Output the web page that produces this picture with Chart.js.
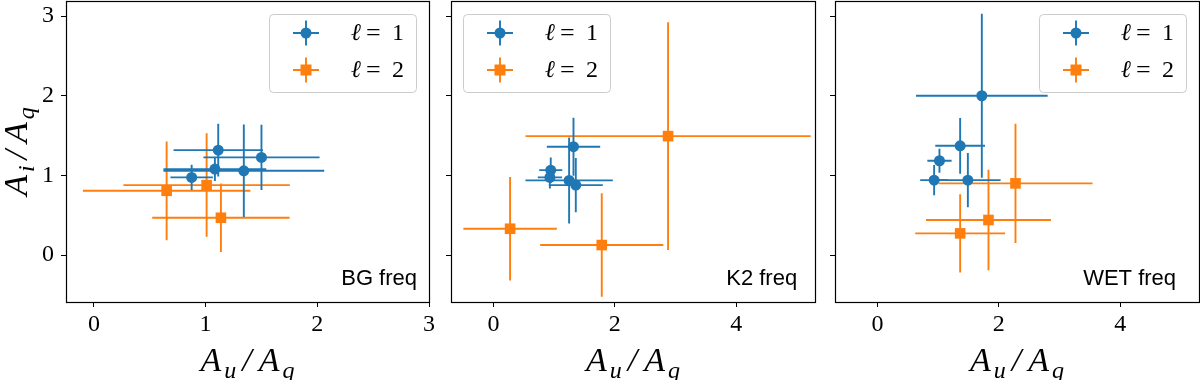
<!DOCTYPE html>
<html>
<head>
<meta charset="utf-8">
<script src="https://cdn.jsdelivr.net/npm/chart.js@4.4.0/dist/chart.umd.min.js"></script>
<style>
	html, body { margin: 0; padding: 0; background: #fff; }
	#wrap { position: relative; width: 1200px; height: 380px; overflow: hidden; }
	.panel { position: absolute; top: 0; }
</style>
</head>
<body>
<div id="wrap">
	<div class="panel" style="left:0px;"><canvas id="c0" width="440" height="380"></canvas></div>
	<div class="panel" style="left:440px;"><canvas id="c1" width="380" height="380"></canvas></div>
	<div class="panel" style="left:824px;"><canvas id="c2" width="376" height="380"></canvas></div>
</div>
<script>
// Values (ratio of amplitudes, with 1-sigma errors)
var panelNames = ['BG freq', 'K2 freq', 'WET freq'];
var seriesLabels = ['ℓ = 1', 'ℓ = 2'];

var bgL1X = [0.875, 1.113, 1.083, 1.342, 1.50];
var bgL1Y = [0.975, 1.317, 1.079, 1.058, 1.226];
var bgL1XErr = [0.19, 0.40, 0.46, 0.72, 0.52];
var bgL1YErr = [0.16, 0.33, 0.15, 0.58, 0.41];
var bgL2X = [0.651, 1.009, 1.137];
var bgL2Y = [0.807, 0.878, 0.468];
var bgL2XErr = [0.75, 0.745, 0.615];
var bgL2YErr = [0.62, 0.65, 0.43];

var k2L1X = [0.944, 0.93, 1.247, 1.319, 1.357];
var k2L1Y = [1.066, 0.975, 0.937, 1.36, 0.878];
var k2L1XErr = [0.19, 0.20, 0.72, 0.44, 0.445];
var k2L1YErr = [0.16, 0.14, 0.54, 0.365, 0.34];
var k2L2X = [0.274, 1.785, 2.878];
var k2L2Y = [0.33, 0.125, 1.493];
var k2L2XErr = [0.77, 1.015, 2.35];
var k2L2YErr = [0.65, 0.65, 1.43];

var wetL1X = [1.72, 1.363, 1.022, 0.934, 1.49];
var wetL1Y = [2.0, 1.372, 1.184, 0.94, 0.94];
var wetL1XErr = [1.085, 0.41, 0.2, 0.23, 0.54];
var wetL1YErr = [1.03, 0.35, 0.15, 0.19, 0.34];
var wetL2X = [1.363, 1.83, 2.275];
var wetL2Y = [0.272, 0.44, 0.9];
var wetL2XErr = [0.74, 1.03, 1.27];
var wetL2YErr = [0.49, 0.63, 0.75];

var bgXTicks = [0, 1, 2, 3];
var wideXTicks = [0, 2, 4];
var yTicks = [0, 1, 2, 3];

var blue = '#1f77b4', orange = '#ff7f0e';
var serif = '"Liberation Serif", "Times New Roman", serif';
var sans = '"Liberation Sans", Arial, sans-serif';

// Draw the error bars of a dataset right before its markers
var errorBars = {
	id: 'errorBars',
	beforeDatasetDraw: function(chart, args) {
		let ds = chart.data.datasets[args.index];
		let xs = chart.scales.x, ys = chart.scales.y, a = chart.chartArea;
		let ctx = chart.ctx;
		ctx.save();
		ctx.beginPath();
		ctx.rect(a.left, a.top, a.right - a.left, a.bottom - a.top);
		ctx.clip();
		ctx.strokeStyle = ds.borderColor;
		ctx.lineWidth = 1.9;
		ds.data.forEach(function(p) {
			let px = xs.getPixelForValue(p.x), py = ys.getPixelForValue(p.y);
			ctx.beginPath();
			ctx.moveTo(xs.getPixelForValue(p.x - p.xerr), py);
			ctx.lineTo(xs.getPixelForValue(p.x + p.xerr), py);
			ctx.moveTo(px, ys.getPixelForValue(p.y - p.yerr));
			ctx.lineTo(px, ys.getPixelForValue(p.y + p.yerr));
			ctx.stroke();
		});
		ctx.restore();
	}
};

// A/B ratio label with subscripts, centred on (x, y) baseline
function drawRatio(ctx, a, b, x, y) {
	let big = 34, small = 24;
	let parts = [['A', big, 0, 3], [a, small, 7, 6], ['/', big, 0, 7], ['A', big, 0, 3], [b, small, 7, 0]];
	let total = 0;
	parts.forEach(function(p) {
		ctx.font = 'italic ' + p[1] + 'px ' + serif;
		p.push(ctx.measureText(p[0]).width);
		total += p[4] + p[3];
	});
	let cx = x - total / 2;
	ctx.textAlign = 'left';
	ctx.textBaseline = 'alphabetic';
	parts.forEach(function(p) {
		ctx.font = 'italic ' + p[1] + 'px ' + serif;
		ctx.fillText(p[0], cx, y + p[2]);
		cx += p[4] + p[3];
	});
}

function drawLegend(ctx, chart, side) {
	let a = chart.chartArea;
	let w = 147, h = 78;
	let left = side === 'right' ? a.right - 13 - w : a.left + 12;
	let top = a.top + 13;
	ctx.save();
	ctx.beginPath();
	ctx.roundRect(left + 0.5, top + 0.5, w, h, 4);
	ctx.fillStyle = 'rgba(255,255,255,0.8)';
	ctx.fill();
	ctx.strokeStyle = '#cccccc';
	ctx.lineWidth = 1;
	ctx.stroke();
	chart.data.datasets.forEach(function(ds, i) {
		let cy = top + 19 + i * 37;
		let mx = left + 37;
		ctx.strokeStyle = ds.borderColor;
		ctx.lineWidth = 1.9;
		ctx.beginPath();
		ctx.moveTo(mx - 13, cy);
		ctx.lineTo(mx + 13, cy);
		ctx.moveTo(mx, cy - 12.5);
		ctx.lineTo(mx, cy + 12.5);
		ctx.stroke();
		ctx.fillStyle = ds.backgroundColor;
		ctx.beginPath();
		if(ds.pointStyle === 'circle')
			ctx.arc(mx, cy, 5.5, 0, Math.PI * 2);
		else
			ctx.rect(mx - 5.5, cy - 5.5, 11, 11);
		ctx.fill();
		// Label pieces spread like LaTeX math spacing
		ctx.fillStyle = '#000';
		ctx.textBaseline = 'middle';
		ctx.textAlign = 'left';
		let bits = ds.label.split(' ');
		ctx.font = 'italic 24px ' + serif;
		ctx.fillText(bits[0], left + 82, cy + 1);
		ctx.font = '26px ' + serif;
		ctx.fillText(bits[1], left + 97, cy + 1);
		ctx.font = '24px ' + serif;
		ctx.fillText(bits[2], left + 123, cy + 1);
	});
	ctx.restore();
}

var decor = {
	id: 'decor',
	afterDraw: function(chart, args, opts) {
		let ctx = chart.ctx, a = chart.chartArea;
		ctx.save();
		// Frame
		ctx.strokeStyle = '#000';
		ctx.lineWidth = 1.2;
		ctx.strokeRect(a.left + 0.5, a.top + 0.5, a.right - a.left, a.bottom - a.top);
		// Panel name
		ctx.fillStyle = '#000';
		ctx.font = '22px ' + sans;
		ctx.textAlign = 'right';
		ctx.textBaseline = 'alphabetic';
		ctx.fillText(opts.name, a.left + opts.nameFrac * (a.right - a.left), 285);
		// Axis labels
		drawRatio(ctx, 'u', 'q', (a.left + a.right) / 2, 371);
		if(opts.yLabel) {
			ctx.save();
			ctx.translate(27, (a.top + a.bottom) / 2);
			ctx.rotate(-Math.PI / 2);
			drawRatio(ctx, 'i', 'q', 0, 0);
			ctx.restore();
		}
		ctx.restore();
		drawLegend(ctx, chart, opts.legendSide);
	}
};

function makeSeries(label, color, marker, radius, xs, ys, xe, ye) {
	return {
		label: label,
		data: xs.map(function(v, i) { return { x: v, y: ys[i], xerr: xe[i], yerr: ye[i] }; }),
		backgroundColor: color,
		borderColor: color,
		borderWidth: 0,
		pointStyle: marker,
		pointRadius: radius,
		pointHoverRadius: radius
	};
}

function makePanel(id, p) {
	new Chart(document.getElementById(id), {
		type: 'scatter',
		data: { datasets: p.datasets },
		options: {
			responsive: false,
			animation: false,
			events: [],
			layout: { autoPadding: false, padding: { top: 1, right: p.padRight, bottom: 0, left: 0 } },
			plugins: {
				legend: { display: false },
				tooltip: { enabled: false },
				decor: { name: p.name, nameFrac: p.nameFrac, legendSide: p.legendSide, yLabel: p.yLabel }
			},
			scales: {
				x: {
					type: 'linear',
					min: p.xMin,
					max: p.xMax,
					afterBuildTicks: function(sc) { sc.ticks = p.xTicks.map(function(v) { return { value: v }; }); },
					afterFit: function(sc) {
						sc.height = 78;
						sc.paddingLeft = 0;
						sc.paddingRight = 0;
					},
					grid: { display: true, drawOnChartArea: false, drawTicks: true, tickLength: 5, color: '#000', lineWidth: 1 },
					border: { display: false },
					ticks: { color: '#000', font: { family: serif, size: 24 }, padding: 3, maxRotation: 0, autoSkip: false }
				},
				y: {
					type: 'linear',
					min: -0.59,
					max: 3.19,
					afterBuildTicks: function(sc) { sc.ticks = yTicks.map(function(v) { return { value: v }; }); },
					afterFit: function(sc) {
						sc.width = p.yWidth;
						sc.paddingTop = 0;
						sc.paddingBottom = 0;
					},
					grid: { display: true, drawOnChartArea: false, drawTicks: true, tickLength: 5, color: '#000', lineWidth: 1 },
					border: { display: false },
					ticks: {
						color: '#000', font: { family: serif, size: 24 }, padding: 7, autoSkip: false,
						callback: function(v) { return p.yLabel ? String(v) : ''; }
					}
				}
			}
		},
		plugins: [errorBars, decor]
	});
}

makePanel('c0', {
	name: panelNames[0], nameFrac: 0.967, legendSide: 'right', yLabel: true,
	xMin: -0.25, xMax: 3.0, xTicks: bgXTicks, yWidth: 66, padRight: 11,
	datasets: [
		makeSeries(seriesLabels[0], blue, 'circle', 5.5, bgL1X, bgL1Y, bgL1XErr, bgL1YErr),
		makeSeries(seriesLabels[1], orange, 'rect', 7.5, bgL2X, bgL2Y, bgL2XErr, bgL2YErr)
	]
});
makePanel('c1', {
	name: panelNames[1], nameFrac: 0.951, legendSide: 'left', yLabel: false,
	xMin: -0.7, xMax: 5.3, xTicks: wideXTicks, yWidth: 11, padRight: 5,
	datasets: [
		makeSeries(seriesLabels[0], blue, 'circle', 5.5, k2L1X, k2L1Y, k2L1XErr, k2L1YErr),
		makeSeries(seriesLabels[1], orange, 'rect', 7.5, k2L2X, k2L2Y, k2L2XErr, k2L2YErr)
	]
});
makePanel('c2', {
	name: panelNames[2], nameFrac: 0.937, legendSide: 'right', yLabel: false,
	xMin: -0.7, xMax: 5.3, xTicks: wideXTicks, yWidth: 11, padRight: 1,
	datasets: [
		makeSeries(seriesLabels[0], blue, 'circle', 5.5, wetL1X, wetL1Y, wetL1XErr, wetL1YErr),
		makeSeries(seriesLabels[1], orange, 'rect', 7.5, wetL2X, wetL2Y, wetL2XErr, wetL2YErr)
	]
});
</script>
</body>
</html>
